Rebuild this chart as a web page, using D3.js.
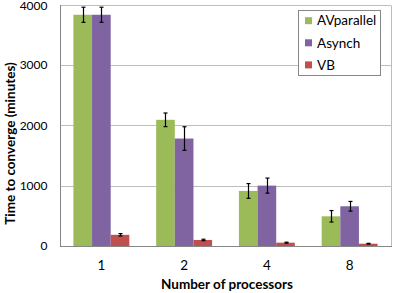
<!DOCTYPE html>
<html>
<head>
<meta charset="utf-8">
<script src="https://cdn.jsdelivr.net/npm/d3@7"></script>
<style>
  body { margin: 0; background: #fff; }
  svg { display: block; font-family: Lato, "Open Sans", sans-serif; }
</style>
</head>
<body>
<svg id="chart" width="395" height="293"></svg>
<script>
var processors = ["1", "2", "4", "8"];
var seriesNames = ["AVparallel", "Asynch", "VB"];
var seriesColors = ["#9bbb59", "#8064a2", "#c0504d"];
var avparallel = [3830, 2090, 912, 492];
var avparallelErr = [125, 113, 122, 95];
var asynch = [3830, 1780, 1000, 658];
var asynchErr = [125, 195, 125, 80];
var vb = [185, 100, 55, 38];
var vbErr = [20, 12, 8, 6];
var yTicks = [0, 1000, 2000, 3000, 4000];

var values = [avparallel, asynch, vb];
var errors = [avparallelErr, asynchErr, vbErr];

var svg = d3.select("#chart");
var plotLeft = 60, plotRight = 391, plotTop = 4.5, plotBottom = 246;
var fs = "13.5px";

var x0 = d3.scaleBand().domain(processors).range([plotLeft, plotRight]);
var x1 = d3.scaleBand().domain(seriesNames).range([0, x0.bandwidth()]).paddingOuter(0.72);
var y = d3.scaleLinear().domain([0, 4000]).range([plotBottom, plotTop]);

// gridlines
svg.append("g").selectAll("line").data(yTicks.slice(1)).enter().append("line")
  .attr("x1", plotLeft).attr("x2", plotRight)
  .attr("y1", function(d) { return Math.round(y(d)) + 0.5; })
  .attr("y2", function(d) { return Math.round(y(d)) + 0.5; })
  .attr("stroke", "#bdbdbd").attr("stroke-width", 1);

// right border of plot area
svg.append("line")
  .attr("x1", plotRight + 0.5).attr("x2", plotRight + 0.5)
  .attr("y1", Math.round(y(4000)) + 0.5).attr("y2", plotBottom + 0.5)
  .attr("stroke", "#bdbdbd");

// bars
var rows = [];
processors.forEach(function(p, i) {
  seriesNames.forEach(function(s, j) {
    rows.push({ p: p, s: s, v: values[j][i], e: errors[j][i], c: seriesColors[j] });
  });
});

svg.append("g").selectAll("rect").data(rows).enter().append("rect")
  .attr("x", function(d) { return x0(d.p) + x1(d.s); })
  .attr("y", function(d) { return y(d.v); })
  .attr("width", x1.bandwidth())
  .attr("height", function(d) { return plotBottom - y(d.v); })
  .attr("fill", function(d) { return d.c; });

// error bars
var eb = svg.append("g").attr("stroke", "#000").attr("stroke-width", 1.2);
rows.forEach(function(d) {
  var cx = Math.round(x0(d.p) + x1(d.s) + x1.bandwidth() / 2) + 0.5;
  eb.append("line").attr("x1", cx).attr("x2", cx).attr("y1", y(d.v + d.e)).attr("y2", y(d.v - d.e));
  eb.append("line").attr("x1", cx - 2).attr("x2", cx + 2).attr("y1", y(d.v + d.e)).attr("y2", y(d.v + d.e));
  eb.append("line").attr("x1", cx - 2).attr("x2", cx + 2).attr("y1", y(d.v - d.e)).attr("y2", y(d.v - d.e));
});

// axes
var yAxis = svg.append("g").attr("transform", "translate(" + (plotLeft + 0.5) + ",0)")
  .call(d3.axisLeft(y).tickValues(yTicks).tickSize(0).tickPadding(13).tickFormat(d3.format("d")));
yAxis.select(".domain").attr("stroke", "#868686").attr("d", "M0," + (plotBottom + 0.5) + "V" + Math.round(y(4000)));
yAxis.selectAll("text").attr("font-size", "12px").attr("fill", "#000").attr("font-family", "Lato, sans-serif")
  .attr("dy", function(d) { return d === 4000 ? "0.45em" : "0.32em"; });

var xAxis = svg.append("g").attr("transform", "translate(0," + (plotBottom + 0.5) + ")")
  .call(d3.axisBottom(x0).tickSize(0).tickPadding(14));
xAxis.select(".domain").attr("stroke", "#868686").attr("d", "M" + plotLeft + ",0H" + (plotRight + 1));
xAxis.selectAll("text").attr("font-size", fs).attr("fill", "#000").attr("font-family", "Lato, sans-serif");

// titles
svg.append("text").attr("x", 227).attr("y", 289)
  .attr("text-anchor", "middle").attr("font-size", fs).attr("font-weight", "bold")
  .text("Number of processors");
svg.append("text").attr("transform", "translate(15,143.5) rotate(-90)")
  .attr("text-anchor", "middle").attr("font-size", fs).attr("font-weight", "bold")
  .text("Time to converge (minutes)");

// legend
var legend = svg.append("g");
legend.append("rect").attr("x", 298.5).attr("y", 10.5).attr("width", 82).attr("height", 65)
  .attr("fill", "#fff").attr("stroke", "#868686");
seriesNames.forEach(function(s, i) {
  var ly = 20.7 + i * 22.1;
  legend.append("rect").attr("x", 305).attr("y", ly - 3.5).attr("width", 7).attr("height", 7).attr("fill", seriesColors[i]);
  legend.append("text").attr("x", 317).attr("y", ly).attr("dy", "0.35em").attr("font-size", fs).text(s);
});
</script>
</body>
</html>
